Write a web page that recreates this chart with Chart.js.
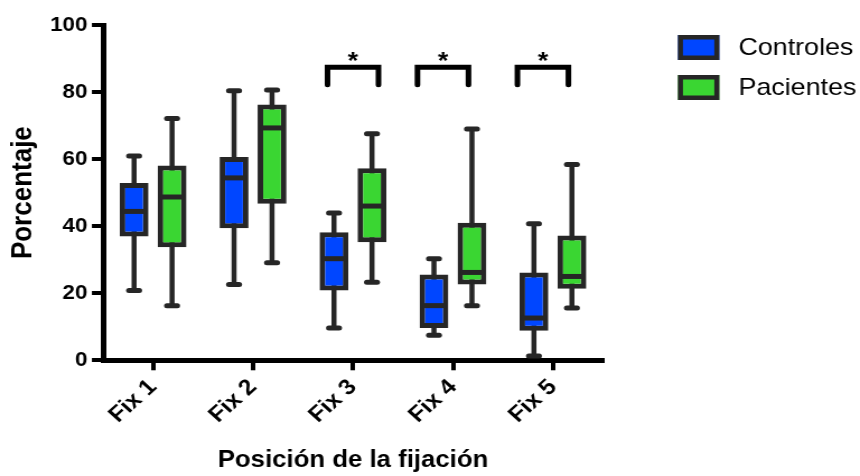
<!DOCTYPE html>
<html>
<head>
<meta charset="utf-8">
<script src="https://cdn.jsdelivr.net/npm/chart.js@4.4.1/dist/chart.umd.min.js"></script>
<style>
  html, body { margin: 0; padding: 0; background: #fff; }
</style>
</head>
<body>
<!-- the source figure is stretched sideways, so the canvas is too -->
<canvas id="chart" width="768" height="476" style="width:860px;height:476px"></canvas>
<script>
const categories = ['Fix 1', 'Fix 2', 'Fix 3', 'Fix 4', 'Fix 5'];
const y_ticks = [0, 20, 40, 60, 80, 100];

const controles_min = [20.8, 22.6, 9.6, 7.5, 1.3];
const controles_q1 = [36.9, 39.4, 20.8, 9.6, 8.8];
const controles_median = [44.4, 54.4, 30.3, 16.3, 12.6];
const controles_q3 = [52.9, 60.6, 38.2, 25.6, 26.2];
const controles_max = [60.9, 80.4, 43.9, 30.3, 40.7];

const pacientes_min = [16.3, 29.1, 23.3, 16.3, 15.6];
const pacientes_q1 = [33.7, 46.7, 35.2, 22.6, 21.3];
const pacientes_median = [48.7, 69.3, 46.0, 26.2, 25.0];
const pacientes_q3 = [58.1, 76.3, 57.3, 41.0, 37.2];
const pacientes_max = [72.1, 80.6, 67.6, 69.0, 58.4];

// groups marked with * (Controles vs Pacientes)
const significant = ['Fix 3', 'Fix 4', 'Fix 5'];

const edge_color = '#262626';
const font_family = '"Liberation Sans", Arial, sans-serif';

const make_box_set = (label, color, min, q1, median, q3, max) => ({
    label: label,
    data: q1.map((v, i) => [v, q3[i]]),
    mins: min,
    maxs: max,
    medians: median,
    backgroundColor: color,
    borderColor: edge_color,
    borderWidth: 5,
    borderSkipped: false,
    categoryPercentage: 0.76,
    barPercentage: 0.76,
});

// whiskers go behind the boxes, medians on top of them
const box_plot = {
    id: 'box_plot',
    beforeDatasetsDraw(chart) {
        const {ctx, scales: {y}} = chart;
        ctx.save();
        ctx.strokeStyle = edge_color;
        chart.data.datasets.forEach((ds, i) => {
            chart.getDatasetMeta(i).data.forEach((bar, j) => {
                const top = y.getPixelForValue(ds.maxs[j]);
                const bottom = y.getPixelForValue(ds.mins[j]);
                ctx.lineWidth = 4.5;
                ctx.lineCap = 'butt';
                ctx.beginPath();
                ctx.moveTo(bar.x, top);
                ctx.lineTo(bar.x, bottom);
                ctx.stroke();

                const half = bar.width * 0.18;
                ctx.lineWidth = 5;
                ctx.lineCap = 'round';
                [top, bottom].forEach((py) => {
                    ctx.beginPath();
                    ctx.moveTo(bar.x - half, py);
                    ctx.lineTo(bar.x + half, py);
                    ctx.stroke();
                });
            });
        });
        ctx.restore();
    },
    afterDatasetsDraw(chart) {
        const {ctx, scales: {y}} = chart;
        ctx.save();
        ctx.strokeStyle = edge_color;
        ctx.lineWidth = 5;
        chart.data.datasets.forEach((ds, i) => {
            chart.getDatasetMeta(i).data.forEach((bar, j) => {
                const py = y.getPixelForValue(ds.medians[j]);
                ctx.beginPath();
                ctx.moveTo(bar.x - bar.width / 2 + 2, py);
                ctx.lineTo(bar.x + bar.width / 2 - 2, py);
                ctx.stroke();
            });
        });
        ctx.restore();
    }
};

const brackets = {
    id: 'brackets',
    afterDraw(chart) {
        const {ctx, scales: {x, y}} = chart;
        const step = x.getPixelForValue(1) - x.getPixelForValue(0);
        const shifts = [0, -0.1, -0.1];
        const top = y.getPixelForValue(87.4);
        const leg = y.getPixelForValue(82.2);
        const star = y.getPixelForValue(91);
        ctx.save();
        ctx.strokeStyle = '#000';
        ctx.fillStyle = '#000';
        ctx.lineWidth = 5;
        ctx.lineCap = 'round';
        ctx.lineJoin = 'miter';
        ctx.font = 'bold 24px ' + font_family;
        ctx.textAlign = 'center';
        ctx.textBaseline = 'alphabetic';
        significant.forEach((cat, k) => {
            const cx = x.getPixelForValue(categories.indexOf(cat)) + shifts[k] * step;
            const l = cx - 0.255 * step;
            const r = cx + 0.255 * step;
            ctx.beginPath();
            ctx.moveTo(l, leg);
            ctx.lineTo(l, top);
            ctx.lineTo(r, top);
            ctx.lineTo(r, leg);
            ctx.stroke();
            ctx.fillText('*', cx, star + 0.58 * 24);
        });
        ctx.restore();
    }
};

const side_legend = {
    id: 'side_legend',
    afterDraw(chart) {
        const {ctx, chartArea} = chart;
        const left = chartArea.right + 67;
        ctx.save();
        ctx.font = '24px ' + font_family;
        ctx.textBaseline = 'middle';
        chart.data.datasets.forEach((ds, i) => {
            const top = chartArea.top + 10 + i * 40;
            ctx.fillStyle = ds.backgroundColor;
            ctx.fillRect(left, top, 37, 25);
            ctx.lineWidth = 4.5;
            ctx.strokeStyle = edge_color;
            ctx.strokeRect(left + 2.25, top + 2.25, 37 - 4.5, 25 - 4.5);
            ctx.fillStyle = '#000';
            ctx.fillText(ds.label, left + 54, top + 13.5);
        });
        ctx.restore();
    }
};

const axis_style = {
    grid: {
        display: true,
        drawOnChartArea: false,
        drawTicks: true,
        tickLength: 10,
        lineWidth: 4,
        color: '#000',
        offset: false,
    },
    border: {display: true, width: 5, color: '#000'},
};

const draw_chart = () => {
    const ctx = document.querySelector('#chart').getContext('2d');

    new Chart(ctx, {
        type: 'bar',
        data: {
            labels: categories,
            datasets: [
                make_box_set('Controles', 'rgb(0, 70, 255)', controles_min, controles_q1, controles_median, controles_q3, controles_max),
                make_box_set('Pacientes', 'rgb(58, 214, 50)', pacientes_min, pacientes_q1, pacientes_median, pacientes_q3, pacientes_max),
            ]
        },
        options: {
            responsive: false,
            devicePixelRatio: 1,
            animation: false,
            layout: {padding: {left: 1, right: 229.6, top: 25, bottom: 0}},
            plugins: {
                legend: {display: false},
                tooltip: {enabled: false},
            },
            scales: {
                x: {
                    ...axis_style,
                    offset: true,
                    ticks: {
                        color: '#000',
                        font: {family: font_family, size: 22, weight: 'bold'},
                        minRotation: 45,
                        maxRotation: 45,
                        padding: 4,
                    },
                    title: {
                        display: true,
                        text: 'Posición de la fijación',
                        color: '#000',
                        font: {family: font_family, size: 23, weight: 'bold'},
                        padding: {top: 14, bottom: 2},
                    },
                },
                y: {
                    ...axis_style,
                    min: 0,
                    max: 100,
                    afterBuildTicks: (scale) => {
                        scale.ticks = y_ticks.map((v) => ({value: v}));
                    },
                    ticks: {
                        color: '#000',
                        font: {family: font_family, size: 20, weight: 'bold'},
                        padding: 4,
                    },
                    title: {
                        display: true,
                        text: 'Porcentaje',
                        color: '#000',
                        font: {family: font_family, size: 26, weight: 'bold'},
                        padding: {top: 4, bottom: 4.5},
                    },
                },
            },
        },
        plugins: [box_plot, brackets, side_legend],
    });
};

draw_chart();
</script>
</body>
</html>
